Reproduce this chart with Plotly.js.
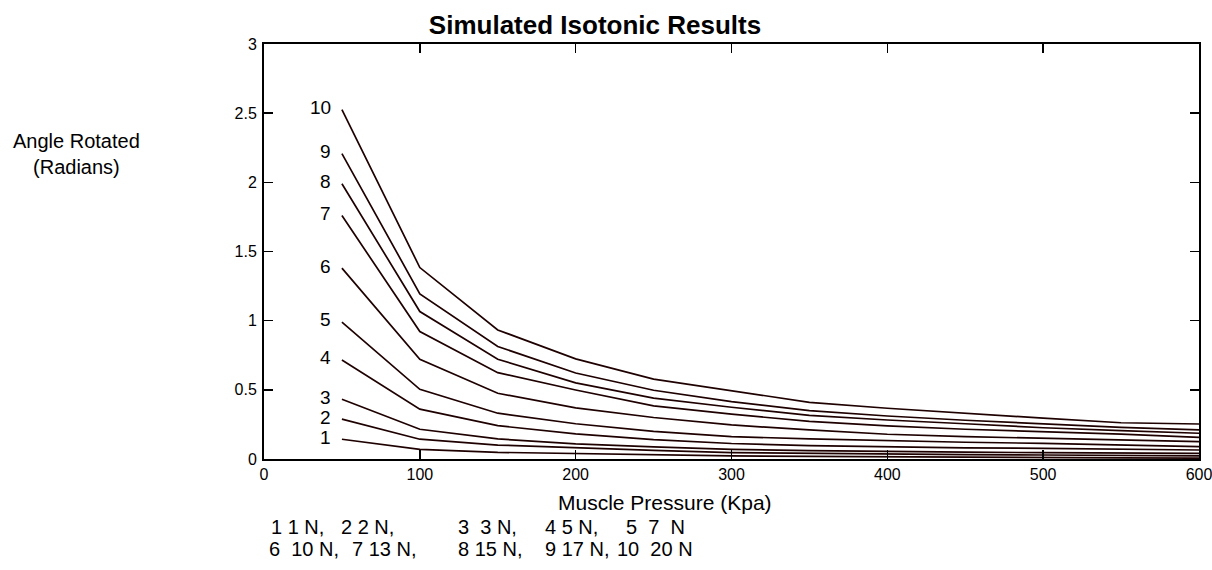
<!DOCTYPE html>
<html>
<head>
<meta charset="utf-8">
<script src="https://cdn.plot.ly/plotly-3.0.1.min.js"></script>
<style>html,body{margin:0;padding:0;background:#fff;}#chart{width:1212px;height:570px;}</style>
</head>
<body>
<div id="chart"></div>
<script>
var pressure = [50, 100, 150, 200, 250, 300, 350, 400, 450, 500, 550, 600];
var curveLabels = ["1", "2", "3", "4", "5", "6", "7", "8", "9", "10"];
var angle1  = [0.143, 0.070, 0.048, 0.038, 0.030, 0.022, 0.019, 0.015, 0.013, 0.010, 0.008, 0.006];
var angle2  = [0.288, 0.143, 0.101, 0.080, 0.062, 0.046, 0.040, 0.034, 0.031, 0.029, 0.026, 0.022];
var angle3  = [0.432, 0.215, 0.145, 0.109, 0.088, 0.070, 0.060, 0.053, 0.049, 0.046, 0.043, 0.041];
var angle4  = [0.716, 0.360, 0.241, 0.181, 0.140, 0.112, 0.097, 0.087, 0.081, 0.077, 0.070, 0.065];
var angle5  = [0.990, 0.504, 0.331, 0.255, 0.200, 0.162, 0.145, 0.132, 0.121, 0.113, 0.102, 0.089];
var angle6  = [1.380, 0.721, 0.475, 0.369, 0.300, 0.246, 0.210, 0.179, 0.162, 0.150, 0.138, 0.125];
var angle7  = [1.760, 0.921, 0.624, 0.499, 0.384, 0.324, 0.272, 0.239, 0.215, 0.198, 0.180, 0.157];
var angle8  = [1.990, 1.066, 0.721, 0.550, 0.440, 0.374, 0.315, 0.282, 0.255, 0.226, 0.205, 0.186];
var angle9  = [2.207, 1.194, 0.813, 0.622, 0.497, 0.415, 0.350, 0.311, 0.280, 0.253, 0.228, 0.210];
var angle10 = [2.525, 1.384, 0.933, 0.724, 0.577, 0.494, 0.410, 0.367, 0.330, 0.295, 0.262, 0.253];
var series = [angle1, angle2, angle3, angle4, angle5, angle6, angle7, angle8, angle9, angle10];
var xTicks = [0, 100, 200, 300, 400, 500, 600];
var yTicks = [0, 0.5, 1, 1.5, 2, 2.5, 3];
var yTickText = ["0", "0.5", "1", "1.5", "2", "2.5", "3"];
var NB = "\u00A0";
var legendRow1 = ["1" + NB + "1" + NB + "N,", "2" + NB + "2" + NB + "N,", "3" + NB + NB + "3" + NB + "N,",
                  "4" + NB + "5" + NB + "N,", "5" + NB + NB + "7" + NB + NB + "N"];
var legendRow2 = ["6" + NB + NB + "10" + NB + "N,", "7" + NB + "13" + NB + "N,", "8" + NB + "15" + NB + "N,",
                  "9" + NB + "17" + NB + "N,", "10" + NB + NB + "20" + NB + "N"];

var lineColor = "#1e0000";
var traces = series.map(function (vals, i) {
  return {
    x: pressure, y: vals, type: "scatter", mode: "lines",
    line: {color: lineColor, width: 1.7},
    name: curveLabels[i], showlegend: false, hoverinfo: "skip"
  };
});

var font = "Liberation Sans, Arial, sans-serif";
// plot area in pixels: left 264, right 1199, top 44, bottom 459
function px(x) { return (x - 264) / 935; }
function py(y) { return (459 - y) / 415; }

var annotations = series.map(function (vals, i) {
  return {
    x: 44.5, y: vals[0] + 0.015, xref: "x", yref: "y",
    text: curveLabels[i], showarrow: false, xanchor: "right", yanchor: "middle",
    font: {family: font, size: 19, color: "#000"}
  };
});
annotations.push({
  xref: "paper", yref: "paper", x: px(76), y: py(154), xanchor: "center", yanchor: "middle",
  text: "Angle Rotated<br>(Radians)", showarrow: false,
  font: {family: font, size: 20, color: "#000"}
});
annotations.push({
  xref: "paper", yref: "paper", x: px(665), y: py(502), xanchor: "center", yanchor: "middle",
  text: "Muscle Pressure (Kpa)", showarrow: false,
  font: {family: font, size: 21, color: "#000"}
});
var row1X = [269, 339, 456, 543, 624];
var row2X = [267, 350, 456, 543, 615];
legendRow1.forEach(function (t, i) {
  annotations.push({
    xref: "paper", yref: "paper", x: px(row1X[i]), y: py(527), xanchor: "left", yanchor: "middle",
    text: t, showarrow: false, font: {family: font, size: 20, color: "#000"}
  });
});
legendRow2.forEach(function (t, i) {
  annotations.push({
    xref: "paper", yref: "paper", x: px(row2X[i]), y: py(549), xanchor: "left", yanchor: "middle",
    text: t, showarrow: false, font: {family: font, size: 20, color: "#000"}
  });
});

var layout = {
  width: 1212, height: 570,
  paper_bgcolor: "#fff", plot_bgcolor: "#fff",
  margin: {l: 264, r: 13, t: 44, b: 111},
  title: {text: "<b>Simulated Isotonic Results</b>", x: 595 / 1212, xref: "container", xanchor: "center",
          y: 1 - 25 / 570, yref: "container", yanchor: "middle",
          font: {family: font, size: 26, color: "#000"}},
  xaxis: {
    range: [0, 600], tickvals: xTicks, ticktext: xTicks.map(String),
    ticks: "inside", ticklen: 9, tickwidth: 1.5, tickcolor: "#000",
    showline: true, linecolor: "#000", linewidth: 2, mirror: "ticks",
    showgrid: false, zeroline: false, ticklabeloverflow: "allow",
    tickfont: {family: font, size: 16, color: "#000"}
  },
  yaxis: {
    range: [0, 3], tickvals: yTicks, ticktext: yTickText,
    ticks: "inside", ticklen: 9, tickwidth: 1.5, tickcolor: "#000",
    showline: true, linecolor: "#000", linewidth: 2, mirror: "ticks",
    showgrid: false, zeroline: false, ticklabeloverflow: "allow",
    tickfont: {family: font, size: 16, color: "#000"}, ticklabelstandoff: 2
  },
  annotations: annotations,
  showlegend: false
};

Plotly.newPlot("chart", traces, layout, {staticPlot: true, displayModeBar: false});
</script>
</body>
</html>
